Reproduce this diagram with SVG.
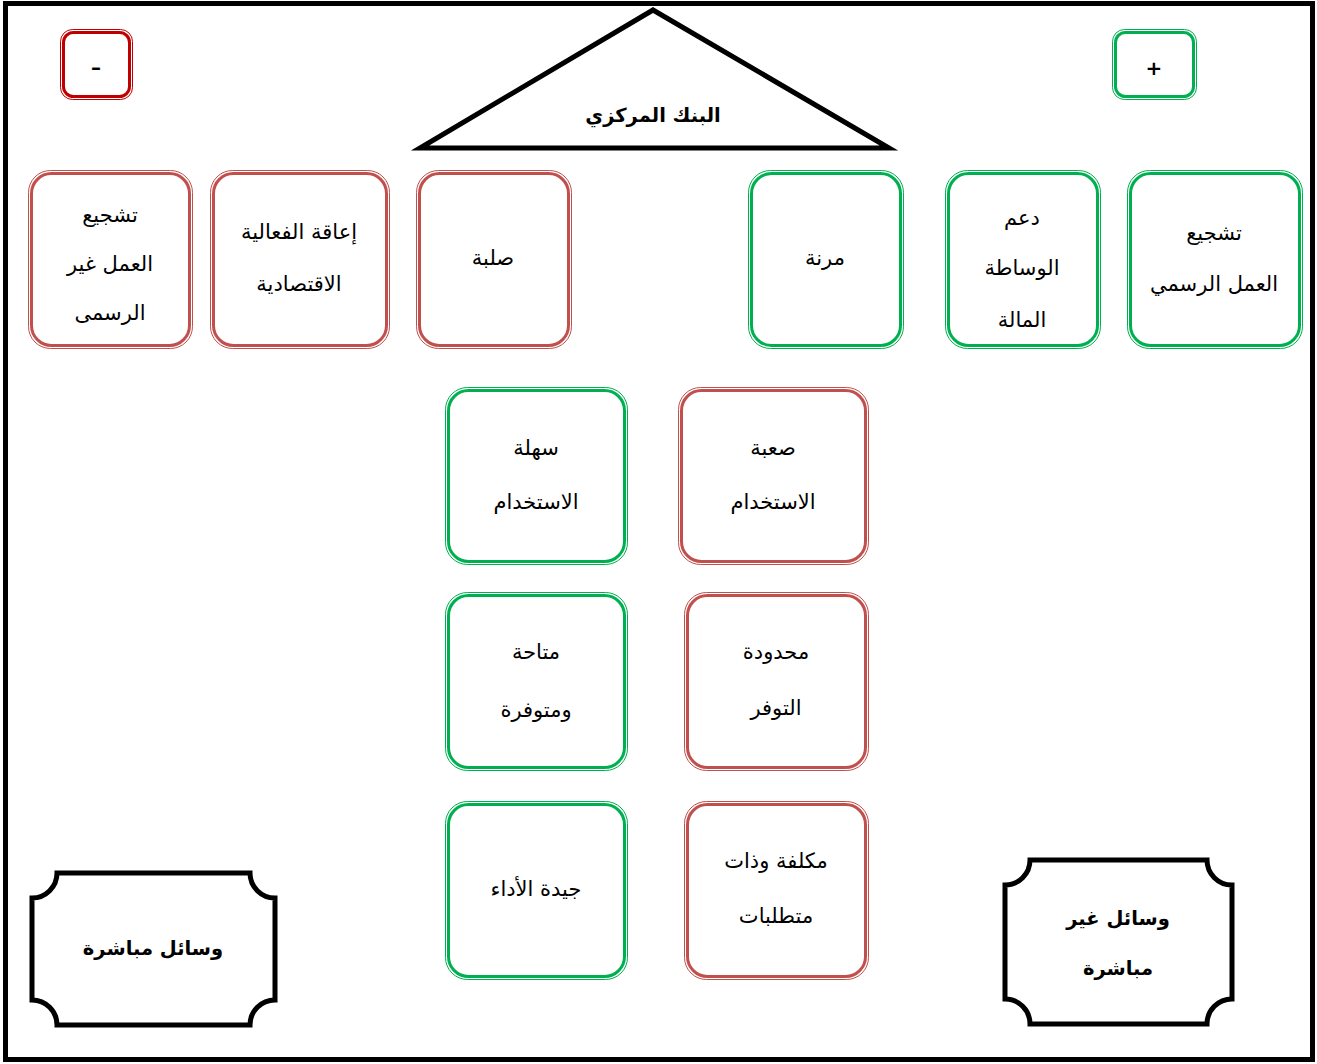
<svg xmlns="http://www.w3.org/2000/svg" width="1317" height="1064" viewBox="0 0 1317 1064">
  <style>
    .frame { fill: #ffffff; stroke: #000000; stroke-width: 5; }
    .tri { fill: #ffffff; stroke: #000000; stroke-width: 5; stroke-linejoin: miter; }
    .plaque { fill: #ffffff; stroke: #000000; stroke-width: 5; }
    .red .o { fill: #ffffff; stroke: #c0504d; stroke-width: 1; }
    .red .i { fill: none; stroke: #c0504d; stroke-width: 3; }
    .grn .o { fill: #ffffff; stroke: #00b050; stroke-width: 1; }
    .grn .i { fill: none; stroke: #00b050; stroke-width: 3; }
    .sign .o { fill: #ffffff; stroke: #c00000; stroke-width: 1; }
    .sign .i { fill: none; stroke: #c00000; stroke-width: 3; }
    text { font-family: "DejaVu Sans", "Noto Sans", sans-serif; font-size: 21px; fill: #000000; text-anchor: middle; direction: rtl; }
    .b { font-weight: bold; font-size: 19.5px; }
    .s { font-size: 20px; font-weight: bold; direction: ltr; }
  </style>

  <!-- page border -->
  <rect class="frame" x="5.5" y="3.5" width="1307" height="1056"/>

  <!-- central bank roof -->
  <g id="central-bank">
    <polygon class="tri" points="653,10 420,148 889,148"/>
    <text class="b" x="653" y="122">البنك المركزي</text>
  </g>

  <!-- sign boxes -->
  <g id="minus" class="sign">
    <rect class="o" x="60.5" y="29.5" width="72" height="70" rx="12"/>
    <rect class="i" x="63.5" y="32.5" width="66" height="64" rx="10"/>
    <text class="s" x="96" y="74">–</text>
  </g>
  <g id="plus" class="grn">
    <rect class="o" x="1112.5" y="29.5" width="84" height="70" rx="12"/>
    <rect class="i" x="1115.5" y="32.5" width="78" height="64" rx="10"/>
    <text class="s" x="1154" y="75">+</text>
  </g>

  <!-- first row: negatives -->
  <g id="informal-work" class="red">
    <rect class="o" x="28.5" y="170.5" width="164" height="178" rx="22"/>
    <rect class="i" x="31.5" y="173.5" width="158" height="172" rx="20"/>
    <text x="110" y="222">تشجيع</text>
    <text x="110" y="271">العمل غير</text>
    <text x="110" y="320">الرسمى</text>
  </g>
  <g id="hinder-efficiency" class="red">
    <rect class="o" x="210.5" y="170.5" width="179" height="178" rx="22"/>
    <rect class="i" x="213.5" y="173.5" width="173" height="172" rx="20"/>
    <text x="299" y="239">إعاقة الفعالية</text>
    <text x="299" y="291">الاقتصادية</text>
  </g>
  <g id="rigid" class="red">
    <rect class="o" x="416.5" y="170.5" width="155" height="178" rx="22"/>
    <rect class="i" x="419.5" y="173.5" width="149" height="172" rx="20"/>
    <text x="493" y="265">صلبة</text>
  </g>

  <!-- first row: positives -->
  <g id="flexible" class="grn">
    <rect class="o" x="748.5" y="170.5" width="155" height="178" rx="22"/>
    <rect class="i" x="751.5" y="173.5" width="149" height="172" rx="20"/>
    <text x="825" y="265">مرنة</text>
  </g>
  <g id="financial-intermediation" class="grn">
    <rect class="o" x="945.5" y="170.5" width="155" height="178" rx="22"/>
    <rect class="i" x="948.5" y="173.5" width="149" height="172" rx="20"/>
    <text x="1022" y="225">دعم</text>
    <text x="1022" y="275">الوساطة</text>
    <text x="1022" y="327">المالة</text>
  </g>
  <g id="formal-work" class="grn">
    <rect class="o" x="1127.5" y="170.5" width="175" height="178" rx="22"/>
    <rect class="i" x="1130.5" y="173.5" width="169" height="172" rx="20"/>
    <text x="1214" y="240">تشجيع</text>
    <text x="1214" y="291">العمل الرسمي</text>
  </g>

  <!-- middle columns -->
  <g id="easy-use" class="grn">
    <rect class="o" x="445.5" y="387.5" width="182" height="177" rx="22"/>
    <rect class="i" x="448.5" y="390.5" width="176" height="171" rx="20"/>
    <text x="536" y="455">سهلة</text>
    <text x="536" y="509">الاستخدام</text>
  </g>
  <g id="hard-use" class="red">
    <rect class="o" x="678.5" y="387.5" width="190" height="177" rx="22"/>
    <rect class="i" x="681.5" y="390.5" width="184" height="171" rx="20"/>
    <text x="773" y="455">صعبة</text>
    <text x="773" y="509">الاستخدام</text>
  </g>
  <g id="available" class="grn">
    <rect class="o" x="445.5" y="592.5" width="182" height="178" rx="22"/>
    <rect class="i" x="448.5" y="595.5" width="176" height="172" rx="20"/>
    <text x="536" y="659">متاحة</text>
    <text x="536" y="717">ومتوفرة</text>
  </g>
  <g id="limited" class="red">
    <rect class="o" x="684.5" y="592.5" width="184" height="178" rx="22"/>
    <rect class="i" x="687.5" y="595.5" width="178" height="172" rx="20"/>
    <text x="776" y="659">محدودة</text>
    <text x="776" y="715">التوفر</text>
  </g>
  <g id="good-performance" class="grn">
    <rect class="o" x="445.5" y="801.5" width="182" height="178" rx="22"/>
    <rect class="i" x="448.5" y="804.5" width="176" height="172" rx="20"/>
    <text x="536" y="896">جيدة الأداء</text>
  </g>
  <g id="costly" class="red">
    <rect class="o" x="684.5" y="801.5" width="184" height="178" rx="22"/>
    <rect class="i" x="687.5" y="804.5" width="178" height="172" rx="20"/>
    <text x="776" y="868">مكلفة وذات</text>
    <text x="776" y="923">متطلبات</text>
  </g>

  <!-- instrument plaques -->
  <g id="direct-tools">
    <path class="plaque" d="M57,873 H250 A25,25 0 0 0 275,898 V1000 A25,25 0 0 0 250,1025 H57 A25,25 0 0 0 32,1000 V898 A25,25 0 0 0 57,873 Z"/>
    <text class="b" x="153" y="955">وسائل مباشرة</text>
  </g>
  <g id="indirect-tools">
    <path class="plaque" d="M1030,860 H1207 A25,25 0 0 0 1232,885 V999 A25,25 0 0 0 1207,1024 H1030 A25,25 0 0 0 1005,999 V885 A25,25 0 0 0 1030,860 Z"/>
    <text class="b" x="1118" y="925">وسائل غير</text>
    <text class="b" x="1118" y="975">مباشرة</text>
  </g>

  <!-- no connectors are drawn between nodes -->
  <g id="connectors"/>
</svg>
